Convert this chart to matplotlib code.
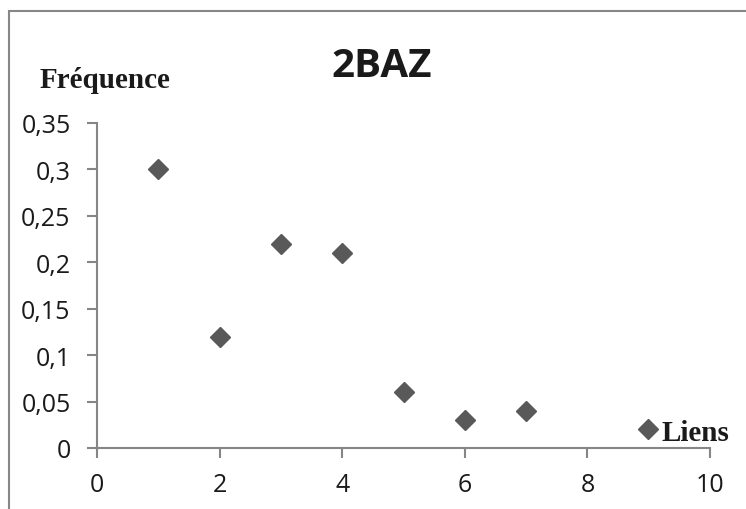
import matplotlib
matplotlib.use("Agg")
import matplotlib.pyplot as plt
from matplotlib.patches import Rectangle
from matplotlib.ticker import FuncFormatter

# data
liens = [1, 2, 3, 4, 5, 6, 7]
frequence = [0.30, 0.12, 0.22, 0.21, 0.06, 0.03, 0.04]
x_ticks = [0, 2, 4, 6, 8, 10]
y_ticks = [0, 0.05, 0.1, 0.15, 0.2, 0.25, 0.3, 0.35]

W, H = 746, 510
fig = plt.figure(figsize=(W / 100, H / 100), dpi=100)
ax = fig.add_axes([97 / W, 1 - 449 / H, (710 - 97) / W, (449 - 124) / H])

# outer chart frame (runs off the right and bottom edges)
fig.patches.append(Rectangle((9 / W, -0.2), 1.2, 1.2 - 12 / H, transform=fig.transFigure,
                             fill=False, edgecolor="#878787", linewidth=1.5))

grey = "#868686"
marker_col = "#595959"

ax.plot(liens, frequence, linestyle="none", marker="D", markersize=10.5,
        color=marker_col, clip_on=False)

ax.set_xlim(0, 10)
ax.set_ylim(0, 0.35)
ax.set_xticks(x_ticks)
ax.set_yticks(y_ticks)

def fr(v, pos):
    s = ("%.2f" % v).rstrip("0").rstrip(".")
    return s.replace(".", ",")

ax.xaxis.set_major_formatter(FuncFormatter(fr))
ax.yaxis.set_major_formatter(FuncFormatter(fr))

for side in ["top", "right"]:
    ax.spines[side].set_visible(False)
for side in ["left", "bottom"]:
    ax.spines[side].set_color(grey)
    ax.spines[side].set_linewidth(1.5)

ax.tick_params(axis="both", direction="out", length=7, width=1.5, color=grey,
               labelsize=18, labelcolor="#1a1a1a")
ax.tick_params(axis="x", pad=10)
ax.tick_params(axis="y", pad=12)
for lab in ax.get_xticklabels() + ax.get_yticklabels():
    lab.set_fontfamily("Open Sans")

fig.text(382 / W, 1 - 77 / H, "2BAZ", ha="center", va="baseline",
         fontsize=29, fontweight="bold", fontfamily="Open Sans", color="#1a1a1a")
fig.text(40 / W, 1 - 88 / H, "Fréquence", ha="left", va="baseline",
         fontsize=21, fontweight="bold", fontfamily="Liberation Serif", color="#1a1a1a")

# legend placed inside the plot area
fig.lines.append(plt.Line2D([648 / W], [1 - 430 / H], transform=fig.transFigure,
                            marker="D", markersize=10.5, color=marker_col, linestyle="none"))
fig.text(662 / W, 1 - 441 / H, "Liens", ha="left", va="baseline",
         fontsize=21, fontweight="bold", fontfamily="Liberation Serif", color="#1a1a1a")

fig.savefig("out.png", dpi=100)
